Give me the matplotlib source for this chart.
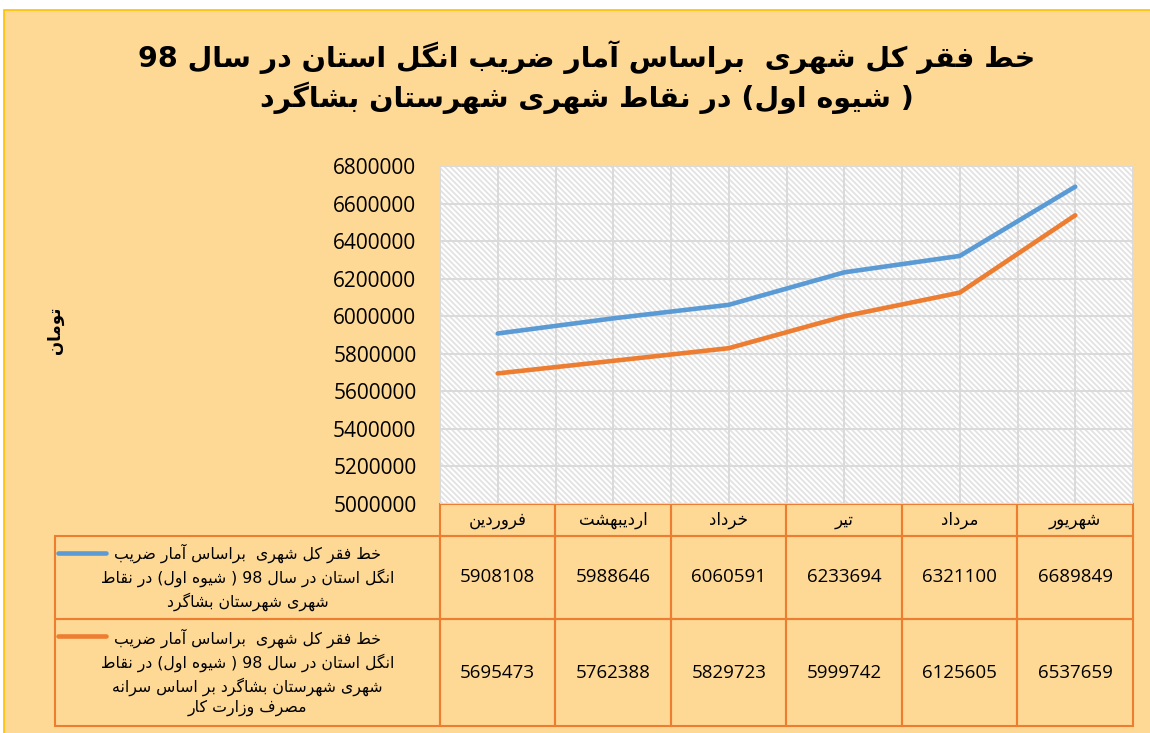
import re
import matplotlib
matplotlib.use("Agg")
import matplotlib.pyplot as plt
from matplotlib.patches import Rectangle
from matplotlib.ticker import FuncFormatter

# داده ها
months = ["فروردین", "اردیبهشت", "خرداد", "تیر", "مرداد", "شهریور"]
khat_fagr_1 = [5908108, 5988646, 6060591, 6233694, 6321100, 6689849]
khat_fagr_2 = [5695473, 5762388, 5829723, 5999742, 6125605, 6537659]
series_names = [
    ["خط فقر کل شهری  براساس آمار ضریب",
     "انگل استان در سال 98 ( شیوه اول) در نقاط",
     "شهری شهرستان بشاگرد"],
    ["خط فقر کل شهری  براساس آمار ضریب",
     "انگل استان در سال 98 ( شیوه اول) در نقاط",
     "شهری شهرستان بشاگرد بر اساس سرانه",
     "مصرف وزارت کار"],
]
title_lines = ["خط فقر کل شهری  براساس آمار ضریب انگل استان در سال 98",
               "( شیوه اول) در نقاط شهری شهرستان بشاگرد"]
y_label = "تومان"
y_ticks = list(range(5000000, 6800001, 200000))

# شکل دادن حروف عربی/فارسی (matplotlib خودش این کار را نمی کند)
# (isolated, final, initial, medial)
FORMS = {
    "ا": ("\uFE8D", "\uFE8E", None, None),
    "آ": ("\uFE81", "\uFE82", None, None),
    "ب": ("\uFE8F", "\uFE90", "\uFE91", "\uFE92"),
    "ت": ("\uFE95", "\uFE96", "\uFE97", "\uFE98"),
    "خ": ("\uFEA5", "\uFEA6", "\uFEA7", "\uFEA8"),
    "د": ("\uFEA9", "\uFEAA", None, None),
    "ر": ("\uFEAD", "\uFEAE", None, None),
    "ز": ("\uFEAF", "\uFEB0", None, None),
    "س": ("\uFEB1", "\uFEB2", "\uFEB3", "\uFEB4"),
    "ش": ("\uFEB5", "\uFEB6", "\uFEB7", "\uFEB8"),
    "ص": ("\uFEB9", "\uFEBA", "\uFEBB", "\uFEBC"),
    "ض": ("\uFEBD", "\uFEBE", "\uFEBF", "\uFEC0"),
    "ط": ("\uFEC1", "\uFEC2", "\uFEC3", "\uFEC4"),
    "ع": ("\uFEC9", "\uFECA", "\uFECB", "\uFECC"),
    "ف": ("\uFED1", "\uFED2", "\uFED3", "\uFED4"),
    "ق": ("\uFED5", "\uFED6", "\uFED7", "\uFED8"),
    "ل": ("\uFEDD", "\uFEDE", "\uFEDF", "\uFEE0"),
    "م": ("\uFEE1", "\uFEE2", "\uFEE3", "\uFEE4"),
    "ن": ("\uFEE5", "\uFEE6", "\uFEE7", "\uFEE8"),
    "ه": ("\uFEE9", "\uFEEA", "\uFEEB", "\uFEEC"),
    "و": ("\uFEED", "\uFEEE", None, None),
    "ک": ("\uFB8E", "\uFB8F", "\uFB90", "\uFB91"),
    "گ": ("\uFB92", "\uFB93", "\uFB94", "\uFB95"),
    "ی": ("\uFBFC", "\uFBFD", "\uFBFE", "\uFBFF"),
}


def shape(text):
    out = []
    for i, ch in enumerate(text):
        f = FORMS.get(ch)
        if f is None:
            out.append(ch)
            continue
        prev = text[i - 1] if i > 0 else ""
        nxt = text[i + 1] if i < len(text) - 1 else ""
        jp = prev in FORMS and FORMS[prev][2] is not None
        jn = nxt in FORMS and f[2] is not None
        if jp and jn:
            out.append(f[3])
        elif jp:
            out.append(f[1])
        elif jn:
            out.append(f[2])
        else:
            out.append(f[0])
    return "".join(out)


def rtl(text):
    s = shape(text)[::-1]
    s = s.translate(str.maketrans("()", ")("))
    return re.sub(r"[0-9]+", lambda m: m.group(0)[::-1], s)


BG = "#FED995"
ORANGE = "#ED7D31"
BLUE = "#5B9BD5"
GRID = "#DADADA"
NUM_FONT = "Open Sans"

plt.rcParams["font.family"] = ["DejaVu Sans"]
plt.rcParams["hatch.linewidth"] = 1.3
plt.rcParams["hatch.color"] = "#E2E2E2"

W, H = 1150, 733
fig = plt.figure(figsize=(W / 100, H / 100), dpi=100, facecolor="white")
frame = Rectangle((4 / W, -0.01), 1.0, 1 - 10 / H + 0.01, transform=fig.transFigure,
                  facecolor=BG, edgecolor="#FFC000", lw=1.2, zorder=-10)
fig.add_artist(frame)

# محدوده نمودار (پیکسل)
L, R, T, B = 440, 1133, 166, 504
ax_h, ax_w = B - T, R - L
ax = fig.add_axes([L / W, 1 - B / H, ax_w / W, ax_h / H])
ax.patch.set_alpha(0)
ax.add_patch(Rectangle((0, 0), 1, 1, transform=ax.transAxes, facecolor="white",
                       edgecolor="#E2E2E2", hatch="\\" * 6, lw=0, zorder=0))

x = list(range(len(months)))
ax.plot(x, khat_fagr_1, color=BLUE, lw=3.3, solid_capstyle="round", zorder=3)
ax.plot(x, khat_fagr_2, color=ORANGE, lw=3.3, solid_capstyle="round", zorder=3)

ax.set_xlim(-0.5, len(months) - 0.5)
ax.set_ylim(y_ticks[0], y_ticks[-1])
ax.set_yticks(y_ticks)
ax.yaxis.set_major_formatter(FuncFormatter(lambda v, p: f"{int(v)}"))
ax.set_xticks([i - 0.5 for i in range(len(months) + 1)] + x)
ax.tick_params(axis="x", length=0, labelbottom=False)
ax.tick_params(axis="y", length=0, pad=17, labelsize=15)
for lab in ax.get_yticklabels():
    lab.set_fontfamily(NUM_FONT)
ax.grid(True, color=GRID, lw=1.4)
ax.set_axisbelow(True)
for s in ax.spines.values():
    s.set_visible(False)

# جدول داده ها (اندازه ها بر حسب کسر محور؛ bbox فقط ستون های داده را می پوشاند)
tb_left, tb_bottom = 55, 726
row_h = [32 / ax_h, 83 / ax_h, 107 / ax_h]
col_w = 1 / len(months)
label_w = (L - tb_left) / ax_w
cell_text = [[str(v) for v in khat_fagr_1], [str(v) for v in khat_fagr_2]]
row_labels = ["\n".join(rtl(l) for l in name) for name in series_names]
col_labels = [rtl(m) for m in months]
tbl = ax.table(cellText=cell_text, rowLabels=row_labels, colLabels=col_labels,
               colWidths=[col_w] * len(months),
               cellLoc="center", rowLoc="center", colLoc="center",
               bbox=[0, -sum(row_h), 1, sum(row_h)])
# عرض ستون عنوان سطرها ثابت باشد، نه خودکار
tbl._autoColumns = [c for c in tbl._autoColumns if c != -1]
tbl.auto_set_font_size(False)
for (r, c), cell in tbl.get_celld().items():
    cell.set_edgecolor(ORANGE)
    cell.set_linewidth(1.5)
    cell.set_facecolor("none")
    cell.set_height(row_h[r])
    cell.set_width(label_w if c == -1 else col_w)
    t = cell.get_text()
    if r == 0:
        t.set_fontsize(12)
    elif c == -1:
        t.set_fontsize(11.3)
        t.set_linespacing(1.36)
    else:
        t.set_fontsize(13.5)
        t.set_fontfamily(NUM_FONT)
    cell.PAD = 0.02

# کلید راهنما در ستون عنوان سطرها
for color, y_px in [(BLUE, 553), (ORANGE, 636)]:
    ax.plot([(58 - L) / ax_w, (106 - L) / ax_w], [(B - y_px) / ax_h] * 2, color=color, lw=3.3,
            transform=ax.transAxes, clip_on=False, solid_capstyle="round")

fig.text(587 / W, 1 - 77 / H, "\n".join(rtl(l) for l in title_lines), ha="center", va="center",
         fontsize=20.5, fontweight="bold", linespacing=1.3)
fig.text(55 / W, 1 - 330 / H, rtl(y_label), rotation=90, ha="center", va="center",
         fontsize=12, fontweight="bold")

fig.savefig("out.png", dpi=100, facecolor=fig.get_facecolor())
